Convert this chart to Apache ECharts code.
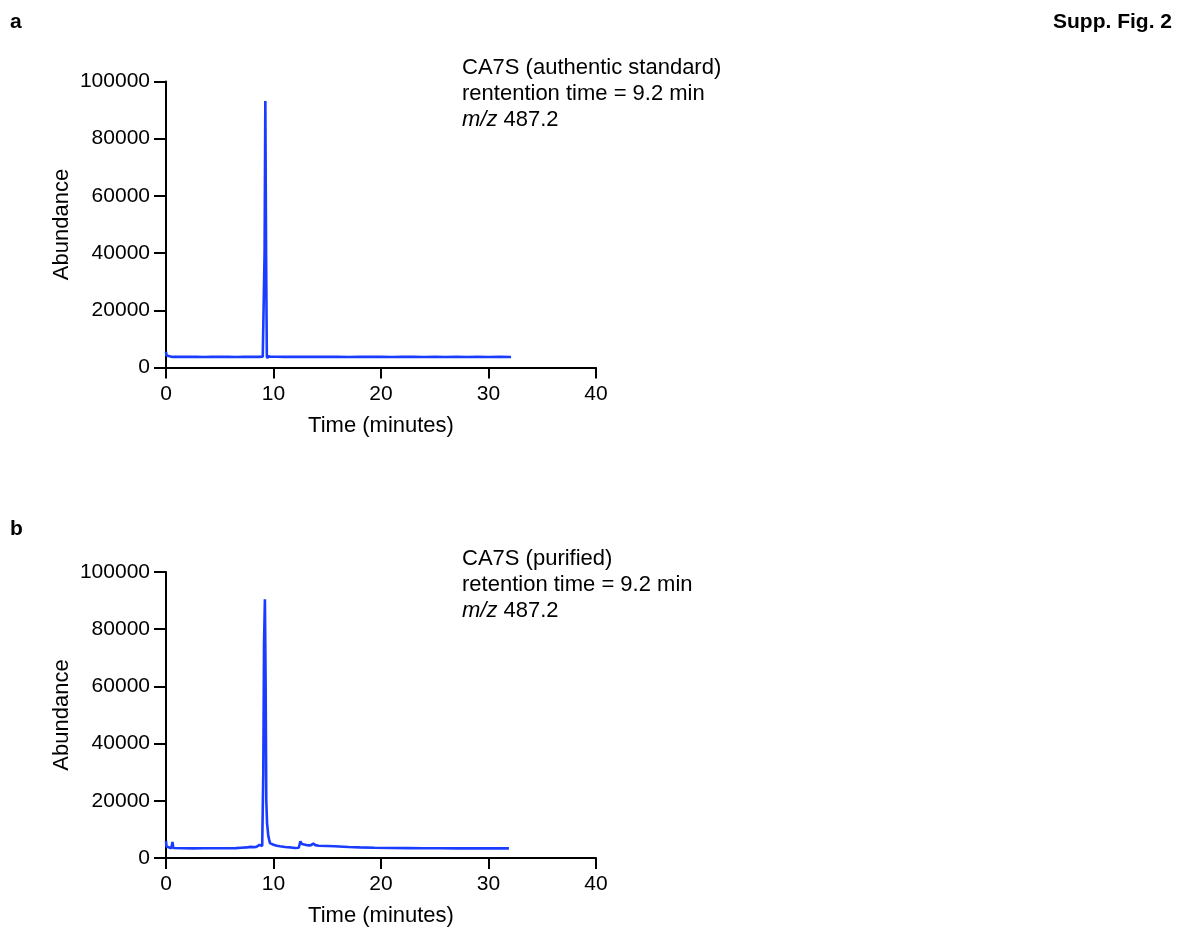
<!DOCTYPE html>
<html>
<head>
<meta charset="utf-8">
<script src="https://cdn.jsdelivr.net/npm/echarts@6/dist/echarts.min.js"></script>
<style>
html,body{margin:0;padding:0;background:#fff;}
#chart{width:1183px;height:930px;}
</style>
</head>
<body>
<div id="chart"></div>
<script>
// ---- data ----
const timesA = [0, 0.05, 0.2, 0.6, 1.2, 2, 2.8, 3.5, 4.3, 5, 5.8, 6.5, 7.3, 8, 8.6, 9.0, 9.1, 9.17, 9.24, 9.31, 9.38, 9.42, 9.5, 9.7, 10.2, 11, 12, 13, 14, 15, 16, 17, 18, 19, 20, 21, 22, 23, 24, 25, 26, 27, 28, 29, 30, 31, 32.1];
const valuesA = [5500, 4200, 3750, 3700, 3750, 3700, 3720, 3680, 3750, 3700, 3720, 3690, 3740, 3700, 3720, 3750, 3800, 40000, 93200, 40000, 4000, 3200, 3900, 3800, 3750, 3700, 3760, 3700, 3740, 3700, 3720, 3680, 3730, 3700, 3720, 3680, 3710, 3700, 3690, 3720, 3680, 3700, 3690, 3710, 3680, 3700, 3680];

const timesB = [0, 0.05, 0.15, 0.5, 0.6, 0.68, 0.8, 1.5, 2.5, 3.5, 4.5, 5.5, 6.5, 7.0, 7.5, 7.85, 7.95, 8.1, 8.4, 8.7, 8.8, 8.95, 9.05, 9.12, 9.2, 9.27, 9.33, 9.4, 9.52, 9.67, 9.85, 10.0, 10.3, 10.45, 10.6, 11.07, 11.6, 12.0, 12.35, 12.5, 12.65, 12.8, 13.25, 13.5, 13.7, 13.9, 14.2, 15.0, 15.7, 16.5, 17.0, 18.0, 19.4, 21, 22.5, 24, 25.5, 27, 28.5, 30, 31.9];
const valuesB = [6000, 4000, 3400, 3400, 5600, 3500, 3400, 3400, 3380, 3400, 3420, 3400, 3450, 3600, 3700, 3900, 4400, 3800, 3900, 4600, 4000, 4200, 30000, 75000, 90500, 60000, 20000, 12200, 7600, 5200, 4800, 4650, 4300, 4400, 4100, 3850, 3700, 3500, 3600, 5800, 4900, 4650, 4400, 4500, 5100, 4500, 4300, 4200, 4100, 3950, 3850, 3700, 3600, 3500, 3450, 3400, 3420, 3380, 3400, 3380, 3350];

const xTicks = [0, 10, 20, 30, 40];
const yTicks = [0, 20000, 40000, 60000, 80000, 100000];

const textA = ['CA7S (authentic standard)', 'rentention time = 9.2 min', '487.2'];
const textB = ['CA7S (purified)', 'retention time = 9.2 min', '487.2'];

// ---- chart ----
const FONT = '"Liberation Sans", Arial, Helvetica, sans-serif';
const LINE = '#1a3cff';

function pairs(t, v) { return t.map((x, i) => [x, v[i]]); }

function xAxis(gi) {
  return {
    gridIndex: gi, type: 'value', min: xTicks[0], max: xTicks[xTicks.length - 1], interval: xTicks[1] - xTicks[0],
    name: 'Time (minutes)', nameLocation: 'middle', nameGap: 47,
    nameTextStyle: {fontFamily: FONT, fontSize: 22, color: '#000'},
    axisLine: {show: true, onZero: false, lineStyle: {color: '#000', width: 2}},
    axisTick: {show: true, length: 11, lineStyle: {color: '#000', width: 2}},
    axisLabel: {fontFamily: FONT, fontSize: 21, color: '#000', margin: 16, formatter: v => String(v)},
    splitLine: {show: false}
  };
}
function yAxis(gi) {
  return {
    gridIndex: gi, type: 'value', min: yTicks[0], max: yTicks[yTicks.length - 1], interval: yTicks[1] - yTicks[0],
    name: 'Abundance', nameLocation: 'middle', nameGap: 93, nameRotate: 90,
    nameTextStyle: {fontFamily: FONT, fontSize: 22, color: '#000'},
    axisLine: {show: true, lineStyle: {color: '#000', width: 2}},
    axisTick: {show: true, length: 12, lineStyle: {color: '#000', width: 2}},
    axisLabel: {fontFamily: FONT, fontSize: 21, color: '#000', margin: 16, formatter: v => String(v)},
    splitLine: {show: false}
  };
}
function series(gi, t, v) {
  return {
    type: 'line', xAxisIndex: gi, yAxisIndex: gi, data: pairs(t, v),
    showSymbol: false, symbol: 'none', smooth: false, sampling: null,
    lineStyle: {color: LINE, width: 2.6}, itemStyle: {color: LINE}, z: 1
  };
}
function annot(lines, x, ys) {
  const st = {fontFamily: FONT, fontSize: 22, fill: '#000'};
  return [
    {type: 'text', left: x, top: ys[0] - 12, style: Object.assign({text: lines[0]}, st)},
    {type: 'text', left: x, top: ys[1] - 12, style: Object.assign({text: lines[1]}, st)},
    {type: 'text', left: x, top: ys[2] - 12, style: {
      text: '{i|m/z} ' + lines[2], fontFamily: FONT, fontSize: 22, fill: '#000',
      rich: {i: {fontFamily: FONT, fontSize: 22, fontStyle: 'italic', color: '#000'}}
    }}
  ];
}

const chart = echarts.init(document.getElementById('chart'), null, {renderer: 'canvas'});
chart.setOption({
  animation: false,
  backgroundColor: '#fff',
  grid: [
    {left: 166, top: 81.5, width: 430, height: 286},
    {left: 166, top: 572, width: 430, height: 286}
  ],
  xAxis: [xAxis(0), xAxis(1)],
  yAxis: [yAxis(0), yAxis(1)],
  series: [series(0, timesA, valuesA), series(1, timesB, valuesB)],
  graphic: [
    {type: 'text', left: 10, top: 12, style: {text: 'a', fontFamily: FONT, fontSize: 21, fontWeight: 'bold', fill: '#000'}},
    {type: 'text', left: 10, top: 519, style: {text: 'b', fontFamily: FONT, fontSize: 21, fontWeight: 'bold', fill: '#000'}},
    {type: 'text', right: 11, top: 12, style: {text: 'Supp. Fig. 2', fontFamily: FONT, fontSize: 21, fontWeight: 'bold', fill: '#000'}}
  ].concat(annot(textA, 462, [69, 95, 121])).concat(annot(textB, 462, [560, 586, 612]))
});
</script>
</body>
</html>
